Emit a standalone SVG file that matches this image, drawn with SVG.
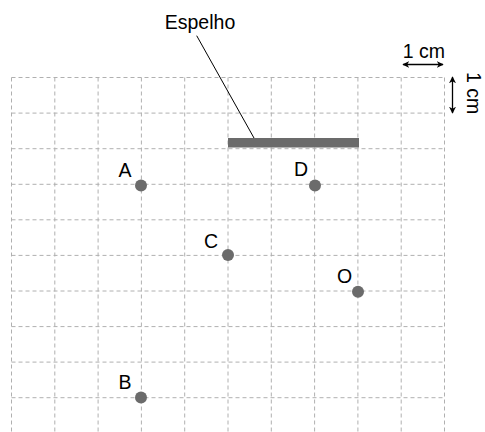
<svg xmlns="http://www.w3.org/2000/svg" width="485" height="432" viewBox="0 0 485 432">
  <defs>
    <style>
      .grid line { stroke: #b0b0b0; stroke-width: 1; stroke-dasharray: 4 3; fill: none; }
      .pt { fill: #6b6b6b; }
      .lbl { font-family: "Liberation Sans", Arial, sans-serif; font-size: 19.5px; fill: #000; text-anchor: middle; }
      .arr { stroke: #000; stroke-width: 1.3; fill: none; marker-start: url(#ah); marker-end: url(#ah); }
    </style>
    <marker id="ah" viewBox="0 0 10 10" refX="9" refY="5" markerWidth="7" markerHeight="7" markerUnits="userSpaceOnUse" orient="auto-start-reverse">
      <path d="M0,0 L10,5 L0,10 L3,5 Z" fill="#000"/>
    </marker>
  </defs>
  <rect width="485" height="432" fill="#fff"/>

  <g id="grid" class="grid">
    <line x1="11.5" y1="77.5" x2="11.5" y2="432"/>
    <line x1="54.8" y1="77.5" x2="54.8" y2="432"/>
    <line x1="98.1" y1="77.5" x2="98.1" y2="432"/>
    <line x1="141.4" y1="77.5" x2="141.4" y2="432"/>
    <line x1="184.7" y1="77.5" x2="184.7" y2="432"/>
    <line x1="228" y1="77.5" x2="228" y2="432"/>
    <line x1="271.3" y1="77.5" x2="271.3" y2="432"/>
    <line x1="314.6" y1="77.5" x2="314.6" y2="432"/>
    <line x1="357.9" y1="77.5" x2="357.9" y2="432"/>
    <line x1="401.2" y1="77.5" x2="401.2" y2="432"/>
    <line x1="444.5" y1="77.5" x2="444.5" y2="432"/>
    <line x1="11.5" y1="77.5" x2="444.5" y2="77.5"/>
    <line x1="11.5" y1="113.1" x2="444.5" y2="113.1"/>
    <line x1="11.5" y1="148.7" x2="444.5" y2="148.7"/>
    <line x1="11.5" y1="184.3" x2="444.5" y2="184.3"/>
    <line x1="11.5" y1="219.8" x2="444.5" y2="219.8"/>
    <line x1="11.5" y1="255.4" x2="444.5" y2="255.4"/>
    <line x1="11.5" y1="291" x2="444.5" y2="291"/>
    <line x1="11.5" y1="326.6" x2="444.5" y2="326.6"/>
    <line x1="11.5" y1="362.1" x2="444.5" y2="362.1"/>
    <line x1="11.5" y1="397.7" x2="444.5" y2="397.7"/>
  </g>

  <g id="mirror">
    <rect x="228" y="138" width="131" height="9.5" fill="#6b6b6b"/>
  </g>

  <g id="connectors">
    <line x1="196.7" y1="35.7" x2="254" y2="138" stroke="#000" stroke-width="1"/>
    <line class="arr" x1="403" y1="64.5" x2="443" y2="64.5"/>
    <line class="arr" x1="452.5" y1="77" x2="452.5" y2="113"/>
  </g>

  <g id="label-espelho">
    <text class="lbl" x="200" y="29">Espelho</text>
  </g>
  <g id="scale-h">
    <text class="lbl" x="424" y="57.5">1 cm</text>
  </g>
  <g id="scale-v">
    <text class="lbl" transform="translate(466.5,93) rotate(90)" x="0" y="0">1 cm</text>
  </g>

  <g id="A">
    <circle class="pt" cx="141" cy="185.5" r="6"/>
    <text class="lbl" x="125" y="177">A</text>
  </g>
  <g id="D">
    <circle class="pt" cx="315" cy="185.5" r="6"/>
    <text class="lbl" x="301" y="176">D</text>
  </g>
  <g id="C">
    <circle class="pt" cx="228" cy="255" r="6"/>
    <text class="lbl" x="211" y="247.5">C</text>
  </g>
  <g id="O">
    <circle class="pt" cx="358" cy="291.7" r="6"/>
    <text class="lbl" x="344.5" y="283">O</text>
  </g>
  <g id="B">
    <circle class="pt" cx="141" cy="397.5" r="6"/>
    <text class="lbl" x="125" y="389">B</text>
  </g>
</svg>
